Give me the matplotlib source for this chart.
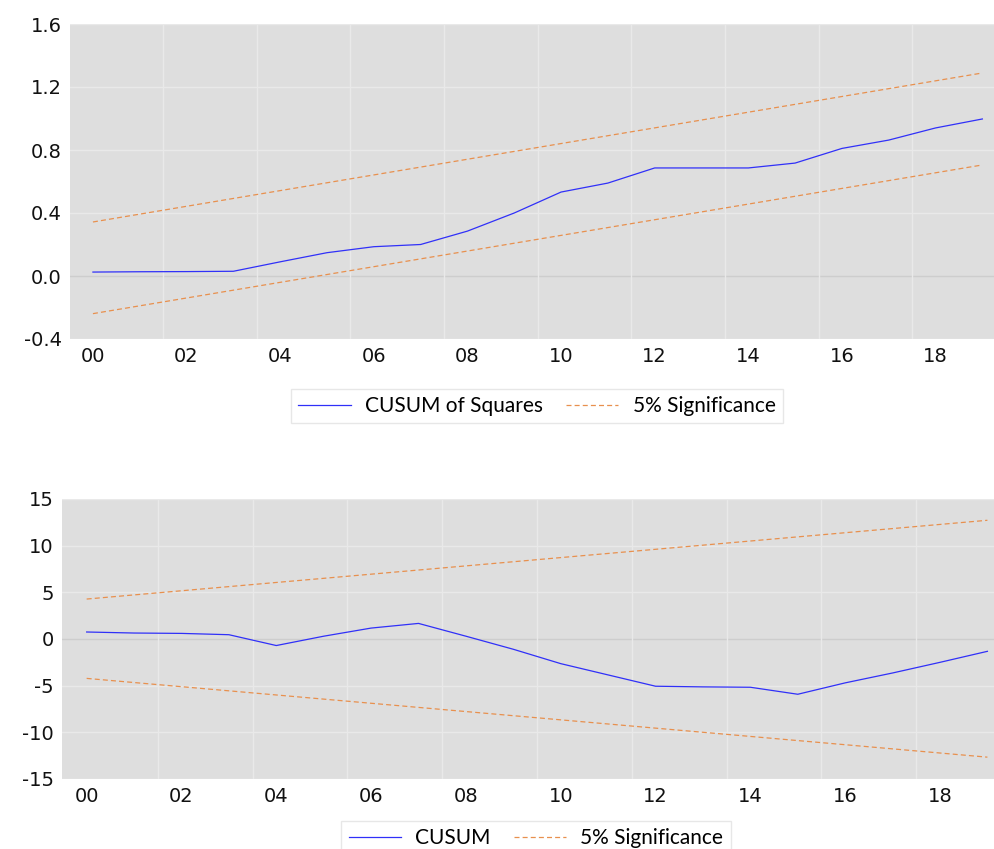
import matplotlib
matplotlib.use("Agg")
import matplotlib.pyplot as plt
from matplotlib.lines import Line2D

# ---- data ----
years = list(range(2000, 2020))
cusumsq = [0.025, 0.027, 0.028, 0.03, 0.09, 0.148, 0.186, 0.20, 0.285, 0.40,
           0.533, 0.59, 0.686, 0.686, 0.686, 0.717, 0.81, 0.863, 0.94, 0.997]
sq_sig_years = [2000, 2019]
sq_upper = [0.343, 1.289]
sq_lower = [-0.239, 0.705]

cusum = [0.75, 0.64, 0.6, 0.46, -0.7, 0.3, 1.17, 1.67, 0.3, -1.1,
         -2.64, -3.85, -5.06, -5.13, -5.17, -5.92, -4.7, -3.64, -2.5, -1.32]
cu_sig_years = [2000, 2019]
cu_upper = [4.28, 12.72]
cu_lower = [-4.22, -12.66]

xtick_years = list(range(2000, 2019, 2))
xtick_labels = ["00", "02", "04", "06", "08", "10", "12", "14", "16", "18"]
top_yticks = [-0.4, 0.0, 0.4, 0.8, 1.2, 1.6]
top_ylabels = ["-0.4", "0.0", "0.4", "0.8", "1.2", "1.6"]
bot_yticks = [-15, -10, -5, 0, 5, 10, 15]
bot_ylabels = ["-15", "-10", "-5", "0", "5", "10", "15"]

BG = "#dedede"
GRID = "#e9e9e9"
ZERO = "#cdcdcd"
BLUE = "#3030f8"
ORANGE = "#e8904e"
TICKFONT = "DejaVu Sans"
LEGFONT = "Lato"

fig = plt.figure(figsize=(9.95, 8.49), dpi=100)

def style_axes(ax, xlim, ylim, yticks, ylabels):
    ax.set_facecolor(BG)
    for s in ax.spines.values():
        s.set_visible(False)
    ax.set_xlim(*xlim)
    ax.set_ylim(*ylim)
    for yv in yticks:
        ax.axhline(yv, color=ZERO if yv == 0 else GRID, lw=1.0, zorder=0.5)
    for y in range(2001, 2019, 2):
        ax.axvline(y + 0.5, color=GRID, lw=1.0, zorder=0.5)
    ax.set_xticks(xtick_years)
    ax.set_xticklabels(xtick_labels, fontfamily=TICKFONT, fontsize=14)
    ax.set_yticks(yticks)
    ax.set_yticklabels(ylabels, fontfamily=TICKFONT, fontsize=14)
    ax.tick_params(length=0, pad=6, colors="#111111")

# ---- top: CUSUM of squares ----
ax1 = fig.add_axes([70/995, 1 - 339/849, 1 - 70/995, (339 - 24)/849])
style_axes(ax1, (1999.51, 2019.27), (-0.4, 1.6), top_yticks, top_ylabels)
ax1.plot(years, cusumsq, color=BLUE, lw=0.9, zorder=3)
ax1.plot(sq_sig_years, sq_upper, color=ORANGE, lw=0.9, ls=(0, (4, 2.5)), zorder=2)
ax1.plot(sq_sig_years, sq_lower, color=ORANGE, lw=0.9, ls=(0, (4, 2.5)), zorder=2)

# ---- bottom: CUSUM ----
ax2 = fig.add_axes([62/995, 1 - 779/849, 1 - 62/995, (779 - 499)/849])
style_axes(ax2, (1999.48, 2019.16), (-15, 15), bot_yticks, bot_ylabels)
ax2.plot(years, cusum, color=BLUE, lw=0.9, zorder=3)
ax2.plot(cu_sig_years, cu_upper, color=ORANGE, lw=0.9, ls=(0, (4, 2.5)), zorder=2)
ax2.plot(cu_sig_years, cu_lower, color=ORANGE, lw=0.9, ls=(0, (4, 2.5)), zorder=2)

def make_legend(label, center):
    handles = [Line2D([], [], color=BLUE, lw=0.9),
               Line2D([], [], color=ORANGE, lw=0.9, ls=(0, (4, 2.5)))]
    leg = fig.legend(handles, [label, "5% Significance"], loc="center",
                     bbox_to_anchor=center, ncol=2, frameon=True, fancybox=False,
                     prop={"family": LEGFONT, "size": 15}, handlelength=2.5,
                     columnspacing=1.1, handletextpad=0.7, borderpad=0.35)
    fr = leg.get_frame()
    fr.set_edgecolor("#e2e2e2")
    fr.set_linewidth(1.0)
    return leg

make_legend("CUSUM of Squares", (537/995, 1 - 406/849))
make_legend("CUSUM", (536/995, 1 - 838/849))

fig.savefig("out.png", dpi=100, facecolor="white")
